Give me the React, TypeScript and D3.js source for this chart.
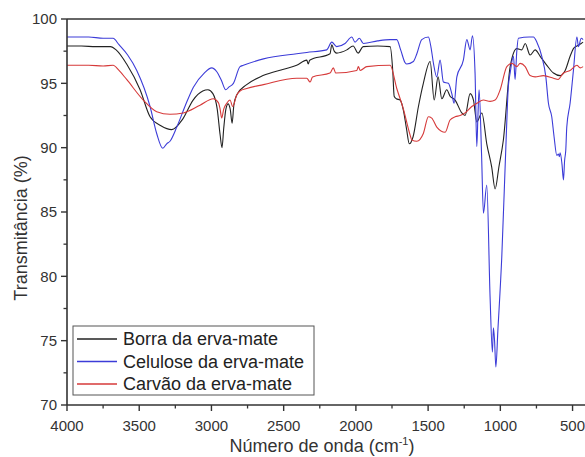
import React from "react";
import * as d3 from "d3";

const W = 585;
const H = 457;

const seriesNames = ["Borra da erva-mate", "Celulose da erva-mate", "Carvão da erva-mate"];
const seriesColors = ["#222222", "#3c3cd8", "#d63a3a"];

const xTicks = [4000, 3500, 3000, 2500, 2000, 1500, 1000, 500];
const yTicks = [70, 75, 80, 85, 90, 95, 100];

const borra: [number, number][] = [
  [4000, 97.9], [3900, 97.9], [3800, 97.85], [3700, 97.85], [3660, 97.6], [3587, 96.5],
  [3494, 94.5], [3425, 92.4], [3350, 91.7], [3275, 91.4], [3200, 92.2], [3127, 93.7],
  [3060, 94.4], [3024, 94.5], [2990, 94.2], [2960, 93.0], [2940, 91.0], [2927, 90.0],
  [2915, 91.5], [2900, 93.0], [2885, 93.4], [2870, 93.0], [2857, 91.9], [2845, 93.3],
  [2825, 94.1], [2756, 94.9], [2643, 95.6], [2500, 96.1], [2410, 96.4], [2340, 96.8],
  [2330, 96.5], [2320, 96.8], [2179, 97.3], [2167, 98.0], [2150, 97.5], [2133, 97.35],
  [2063, 97.6], [2019, 97.9], [1985, 97.35], [1950, 97.85], [1850, 97.9], [1763, 97.85],
  [1745, 96.0], [1735, 94.0], [1720, 93.8], [1694, 93.7], [1671, 92.9], [1650, 91.5],
  [1630, 90.3], [1604, 90.85], [1567, 93.2], [1533, 95.0], [1486, 96.7], [1458, 93.7],
  [1431, 95.5], [1405, 93.8], [1371, 94.5], [1348, 94.0], [1313, 93.7], [1267, 92.7],
  [1244, 92.5], [1209, 94.2], [1186, 93.7], [1163, 92.0], [1128, 92.7], [1094, 90.3],
  [1060, 88.5], [1036, 86.8], [1010, 88.5], [979, 90.6], [932, 96.3], [886, 97.7],
  [851, 97.6], [828, 98.1], [794, 97.2], [759, 97.6], [724, 97.1], [678, 96.4],
  [632, 95.8], [586, 95.6], [551, 96.0], [517, 97.1], [494, 97.7], [470, 97.9],
  [440, 98.1], [427, 98.2],
];

const celulose: [number, number][] = [
  [4000, 98.6], [3850, 98.6], [3750, 98.5], [3681, 98.5], [3640, 98.0], [3580, 97.2],
  [3517, 96.0], [3425, 93.2], [3379, 91.1], [3337, 89.95], [3310, 90.3], [3287, 90.5],
  [3240, 91.6], [3180, 93.3], [3125, 94.7], [3050, 95.8], [2998, 96.2], [2963, 95.9],
  [2930, 95.2], [2901, 94.5], [2880, 94.7], [2848, 95.0], [2802, 96.3], [2779, 96.4],
  [2640, 96.9], [2410, 97.3], [2340, 97.4], [2202, 97.6], [2167, 98.2], [2133, 97.85],
  [2075, 98.1], [2028, 98.6], [2006, 98.2], [1976, 98.5], [1948, 98.1], [1850, 98.3],
  [1763, 98.4], [1717, 98.4], [1690, 97.6], [1659, 96.6], [1648, 96.5], [1602, 96.7],
  [1578, 97.3], [1544, 98.4], [1498, 98.6], [1480, 97.8], [1463, 96.55], [1440, 95.5],
  [1417, 96.8], [1394, 95.1], [1360, 95.0], [1336, 94.2], [1320, 93.45], [1301, 95.5],
  [1256, 96.8], [1232, 98.4], [1209, 97.6], [1193, 98.7], [1175, 95.8], [1163, 90.1],
  [1155, 92.5], [1147, 94.5], [1130, 89.5], [1117, 84.9], [1094, 87.1], [1071, 78.4],
  [1055, 74.1], [1048, 76.0], [1040, 75.0], [1031, 72.95], [1017, 75.8], [990, 81.5],
  [960, 90.6], [945, 94.7], [932, 95.8], [909, 97.1], [898, 95.3], [886, 97.5],
  [875, 98.5], [800, 98.6], [771, 98.6], [747, 98.2], [713, 97.1], [685, 95.5],
  [667, 93.45], [644, 92.4], [628, 90.85], [609, 89.4], [598, 89.5], [591, 89.3],
  [586, 89.6], [573, 88.7], [563, 87.5], [555, 89.0], [547, 89.8], [540, 91.6],
  [517, 93.45], [494, 96.0], [470, 98.6], [459, 97.85], [440, 98.5], [427, 98.4],
];

const carvao: [number, number][] = [
  [4000, 96.4], [3850, 96.4], [3750, 96.35], [3681, 96.4], [3640, 96.0], [3587, 95.3],
  [3472, 93.7], [3379, 92.8], [3287, 92.6], [3195, 92.7], [3079, 93.3], [2987, 93.8],
  [2952, 93.5], [2940, 93.0], [2929, 92.3], [2915, 93.0], [2894, 93.45], [2871, 93.7],
  [2853, 93.2], [2825, 94.1], [2802, 94.4], [2756, 94.6], [2640, 94.9], [2410, 95.4],
  [2340, 95.4], [2317, 95.1], [2300, 95.5], [2179, 95.8], [2156, 96.2], [2140, 95.8],
  [1994, 96.0], [1983, 96.3], [1970, 96.0], [1925, 96.3], [1763, 96.4], [1717, 94.6],
  [1671, 93.0], [1625, 91.0], [1613, 90.6], [1578, 90.5], [1533, 91.1], [1498, 92.4],
  [1475, 92.3], [1440, 91.6], [1382, 91.2], [1348, 92.15], [1313, 92.4], [1278, 92.5],
  [1244, 92.7], [1198, 93.2], [1163, 93.45], [1117, 93.7], [1071, 93.6], [1036, 93.7],
  [1001, 94.5], [955, 96.3], [920, 96.55], [886, 96.3], [863, 96.55], [828, 96.3],
  [794, 95.6], [759, 95.5], [702, 95.6], [632, 95.4], [600, 95.3], [563, 95.8],
  [517, 96.0], [470, 96.4], [447, 96.2], [427, 96.3],
];

const seriesData = [borra, celulose, carvao];

export default function App() {
  const left = 67, top = 19, bottom = 405;
  const x = d3.scaleLinear().domain([4000, 400]).range([left, 587]);
  const y = d3.scaleLinear().domain([70, 100]).range([bottom, top]);
  const line = d3
    .line<[number, number]>()
    .x((d) => x(d[0]))
    .y((d) => y(d[1]))
    .curve(d3.curveMonotoneX);

  const xMinor = d3.range(4000, 400, -250).filter((v) => v % 500 !== 0);
  const yMinor = d3.range(72.5, 100, 5);
  const axisColor = "#333";
  const font = "'Liberation Sans', Arial, sans-serif";

  return (
    <svg
      width={W}
      height={H}
      style={{ position: "absolute", left: 0, top: 0, background: "#fff" }}
      fontFamily={font}
    >
      <defs>
        <clipPath id="plot">
          <rect x={left} y={top} width={W - left} height={bottom - top} />
        </clipPath>
      </defs>
      <rect width={W} height={H} fill="#fff" />
      <g clipPath="url(#plot)">
        {seriesData.map((s, i) => (
          <path key={i} d={line(s) || ""} fill="none" stroke={seriesColors[i]} strokeWidth={1.1} />
        ))}
      </g>
      {/* frame */}
      <line x1={left} x2={W} y1={top} y2={top} stroke={axisColor} strokeWidth={1.6} />
      <line x1={left} x2={left} y1={top} y2={bottom} stroke={axisColor} strokeWidth={1.6} />
      <line x1={left} x2={W} y1={bottom} y2={bottom} stroke={axisColor} strokeWidth={1.6} />
      {/* y ticks */}
      {yTicks.map((t) => (
        <g key={"y" + t}>
          <line x1={left - 6} x2={left} y1={y(t)} y2={y(t)} stroke={axisColor} strokeWidth={1.4} />
          <text x={left - 10} y={y(t)} dy="0.36em" textAnchor="end" fontSize={15} fill="#333">
            {t}
          </text>
        </g>
      ))}
      {yMinor.map((t) => (
        <line key={"ym" + t} x1={left - 3.5} x2={left} y1={y(t)} y2={y(t)} stroke={axisColor} strokeWidth={1.3} />
      ))}
      {/* x ticks */}
      {xTicks.map((t) => (
        <g key={"x" + t}>
          <line x1={x(t)} x2={x(t)} y1={bottom} y2={bottom + 6} stroke={axisColor} strokeWidth={1.4} />
          <text x={x(t)} y={431} textAnchor="middle" fontSize={15} fill="#333">
            {t}
          </text>
        </g>
      ))}
      {xMinor.map((t) => (
        <line key={"xm" + t} x1={x(t)} x2={x(t)} y1={bottom} y2={bottom + 3.5} stroke={axisColor} strokeWidth={1.3} />
      ))}
      {/* axis titles */}
      <text x={322} y={452} textAnchor="middle" fontSize={18} fill="#333">
        Número de onda (cm
        <tspan fontSize={11} dy={-7}>-1</tspan>
        <tspan dy={7}>)</tspan>
      </text>
      <text
        transform={`translate(27,228) rotate(-90)`}
        textAnchor="middle"
        fontSize={18}
        fill="#333"
      >
        Transmitância (%)
      </text>
      {/* legend */}
      <rect x={73} y={326} width={241} height={69} fill="#fff" stroke="#555" strokeWidth={1} />
      {seriesNames.map((n, i) => {
        const cy = 339 + i * 22.5;
        return (
          <g key={n}>
            <path d={`M77,${cy}H117`} stroke={seriesColors[i]} strokeWidth={1.4} fill="none" />
            <text x={123} y={cy} dy="0.36em" fontSize={18} fill="#222">
              {n}
            </text>
          </g>
        );
      })}
    </svg>
  );
}
